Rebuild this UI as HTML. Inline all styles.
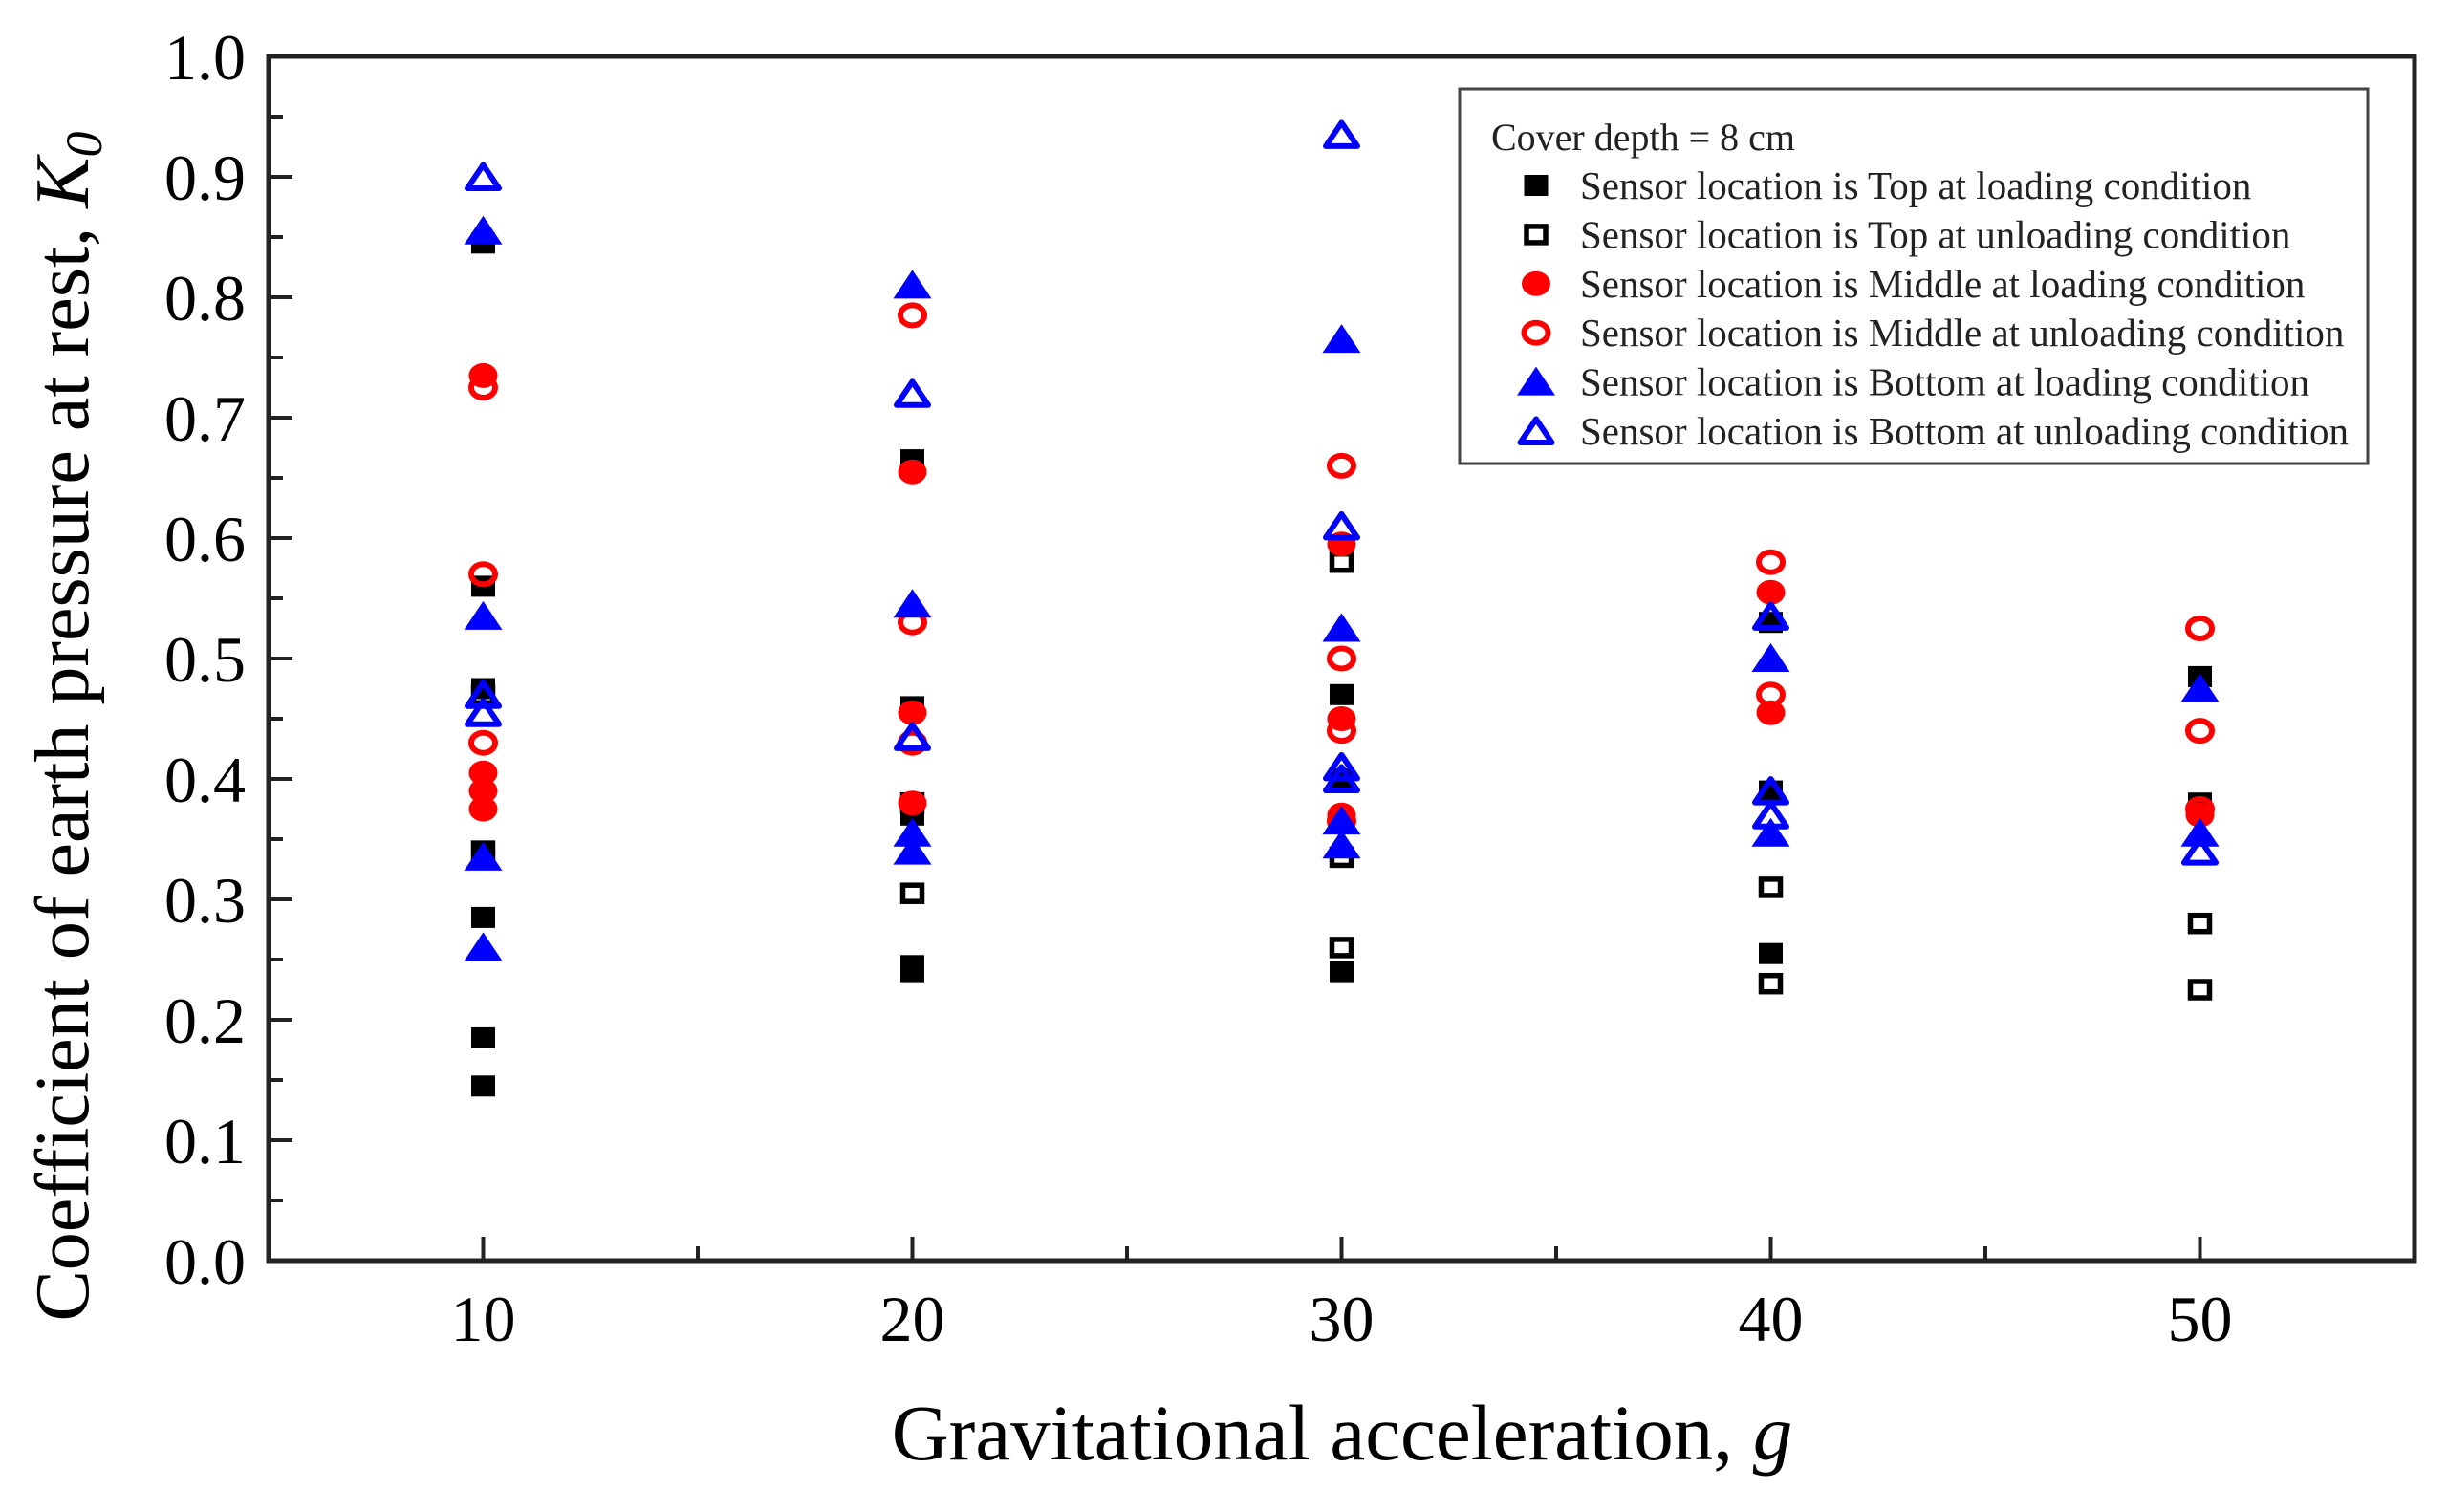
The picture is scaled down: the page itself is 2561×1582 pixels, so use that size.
<!DOCTYPE html>
<html><head><meta charset="utf-8"><style>
html,body{margin:0;padding:0;background:#fff;}
svg{display:block;font-family:"Liberation Serif",serif;}
</style></head><body>
<svg id="chart" width="2561" height="1582" viewBox="0 0 2561 1582" xmlns="http://www.w3.org/2000/svg">
<g id="axes"></g>
<g id="marks"></g>
<g id="legend"></g>
<text x="1404" y="1527" font-size="83" text-anchor="middle">Gravitational acceleration, <tspan font-style="italic">g</tspan></text>
<text transform="translate(92,760) rotate(-90)" font-size="80" text-anchor="middle">Coefficient of earth pressure at rest, <tspan font-style="italic">K</tspan><tspan font-style="italic" font-size="54" dy="14">0</tspan></text>
</svg>
<script>
const xTicks = [10, 20, 30, 40, 50];
const yTicks = [0.0, 0.1, 0.2, 0.3, 0.4, 0.5, 0.6, 0.7, 0.8, 0.9, 1.0];
const topLoadX = [10,10,10,10,10,10,10, 20,20,20,20,20, 30,30,30, 40,40,40, 50,50];
const topLoadY = [0.845,0.56,0.475,0.34,0.285,0.185,0.145, 0.665,0.46,0.37,0.245,0.24, 0.47,0.4,0.24, 0.53,0.39,0.255, 0.485,0.38];
const topUnloadX = [10,10, 20,20, 30,30,30, 40,40, 50,50];
const topUnloadY = [0.47,0.34, 0.38,0.305, 0.58,0.335,0.26, 0.31,0.23, 0.28,0.225];
const midLoadX = [10,10,10,10, 20,20,20, 30,30,30, 40,40, 50];
const midLoadY = [0.735,0.405,0.39,0.375, 0.655,0.455,0.38, 0.595,0.45,0.37, 0.555,0.455, 0.37];
const midUnloadX = [10,10,10, 20,20,20, 30,30,30,30, 40,40, 50,50,50];
const midUnloadY = [0.725,0.57,0.43, 0.785,0.53,0.43, 0.66,0.5,0.44,0.365, 0.58,0.47, 0.525,0.44,0.375];
const botLoadX = [10,10,10,10, 20,20,20,20, 30,30,30,30, 40,40, 50,50];
const botLoadY = [0.855,0.535,0.335,0.26, 0.81,0.545,0.355,0.34, 0.765,0.525,0.365,0.345, 0.5,0.355, 0.475,0.355];
const botUnloadX = [10,10,10, 20,20, 30,30,30,30, 40,40,40, 50];
const botUnloadY = [0.9,0.47,0.455, 0.72,0.435, 0.935,0.61,0.41,0.4, 0.535,0.39,0.37, 0.34];
const legendLabels = ["Sensor location is Top at loading condition","Sensor location is Top at unloading condition","Sensor location is Middle at loading condition","Sensor location is Middle at unloading condition","Sensor location is Bottom at loading condition","Sensor location is Bottom at unloading condition"];

const NS = "http://www.w3.org/2000/svg";
const L = 281, R = 2526, T = 59, B = 1319;
const xMin = 5, xMax = 55, yMin = 0, yMax = 1;
const sx = v => L + (v - xMin) / (xMax - xMin) * (R - L);
const sy = v => B - (v - yMin) / (yMax - yMin) * (B - T);
function mk(tag, attrs, parent) { const e = document.createElementNS(NS, tag); for (const k in attrs) e.setAttribute(k, attrs[k]); parent.appendChild(e); return e; }

const axes = document.getElementById('axes');
const frame = mk('rect', {x:L, y:T, width:R-L, height:B-T, fill:'none', stroke:'#222', 'stroke-width':5}, axes);


yTicks.forEach((v, i) => {
  const y = sy(v);
  const t = mk('line', {x1:L, x2:L+25, y1:y, y2:y, stroke:'#222', 'stroke-width':4}, axes);
  
  
  if (i < yTicks.length - 1) {
    const ym = sy(v + 0.05);
    const m = mk('line', {x1:L, x2:L+15, y1:ym, y2:ym, stroke:'#222', 'stroke-width':4}, axes);
    
    
  }
  const lb = mk('text', {x:257, y:y+24, 'font-size':68, 'text-anchor':'end'}, axes);
  lb.textContent = v.toFixed(1);
  
  
});
for (let v = 10; v <= 50; v += 5) {
  const x = sx(v);
  const major = v % 10 === 0;
  const t = mk('line', {x1:x, x2:x, y1:B, y2:B-(major?25:15), stroke:'#222', 'stroke-width':4}, axes);
  
  
}
xTicks.forEach(v => {
  const lb = mk('text', {x:sx(v), y:1403, 'font-size':68, 'text-anchor':'middle'}, axes);
  lb.textContent = String(v);
  
  
});

function marker(parent, kind, color, filled, x, y) {
  let e;
  if (kind === 'sq') {
    e = filled ? mk('rect', {x:x-12.5, y:y-11, width:25, height:22, fill:color}, parent)
               : mk('rect', {x:x-10, y:y-8.5, width:20, height:17, fill:'none', stroke:color, 'stroke-width':5.5}, parent);
  } else if (kind === 'ci') {
    e = filled ? mk('ellipse', {cx:x, cy:y, rx:15, ry:13, fill:color}, parent)
               : mk('ellipse', {cx:x, cy:y, rx:12.5, ry:10.5, fill:'none', stroke:color, 'stroke-width':6}, parent);
  } else {
    e = filled ? mk('polygon', {points:`${x-20},${y+14} ${x+20},${y+14} ${x},${y-16}`, fill:color}, parent)
               : mk('polygon', {points:`${x-16.5},${y+12} ${x+16.5},${y+12} ${x},${y-12.5}`, fill:'none', stroke:color, 'stroke-width':6, 'stroke-linejoin':'round'}, parent);
  }
  return e;
}
const series = [
  ['top-loading', topLoadX, topLoadY, 'sq', '#000', true],
  ['top-unloading', topUnloadX, topUnloadY, 'sq', '#000', false],
  ['middle-loading', midLoadX, midLoadY, 'ci', '#f00', true],
  ['middle-unloading', midUnloadX, midUnloadY, 'ci', '#f00', false],
  ['bottom-loading', botLoadX, botLoadY, 'tr', '#00f', true],
  ['bottom-unloading', botUnloadX, botUnloadY, 'tr', '#00f', false]
];
const marks = document.getElementById('marks');
series.forEach(s => {
  const g = mk('g', {}, marks);
  
  
  s[1].forEach((xv, i) => {
    const e = marker(g, s[3], s[4], s[5], sx(xv), sy(s[2][i]));
    
    
  });
});

const leg = document.getElementById('legend');
const box = mk('rect', {x:1527, y:93, width:950, height:392, fill:'#fff', stroke:'#444', 'stroke-width':3}, leg);


const ttl = mk('text', {x:1560, y:157, 'font-size':40, fill:'#222'}, leg);
ttl.textContent = 'Cover depth = 8 cm';


series.forEach((s, i) => {
  const y = 194 + i * 51.4;
  const g = mk('g', {}, leg);
  
  
  marker(g, s[3], s[4], s[5], 1607, y);
  const t = mk('text', {x:1653, y:y+14, 'font-size':41, fill:'#222', textLength: 0}, g);
  t.removeAttribute('textLength');
  t.textContent = legendLabels[i];
});
</script>
</body></html>
